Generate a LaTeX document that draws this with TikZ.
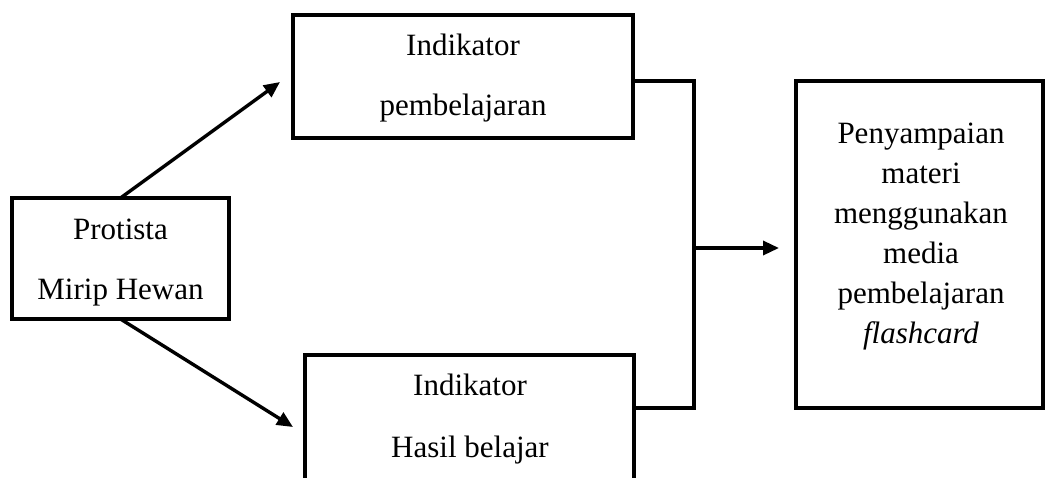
\documentclass[tikz,border=0pt]{standalone}
\usepackage{fontspec}
\setmainfont{Liberation Serif}
\usetikzlibrary{arrows.meta}
\tikzset{
  box/.style={draw=black, line width=3.8pt, rectangle, inner sep=0pt, outer sep=0pt},
  txt/.style={anchor=base, inner sep=0pt, font=\fontsize{31}{37}\selectfont},
  conn/.style={draw=black, line width=3.4pt},
  arr/.style={conn, -{Triangle[length=16pt,width=14pt]}}
}
\begin{document}
\begin{tikzpicture}[x=1pt,y=-1pt]
\clip (0,0) rectangle (1045,477);
\fill[white] (0,0) rectangle (1045,477);
% boxes
\node[box, minimum width=340pt, minimum height=123pt] (top) at (463,76.5) {};
\node[box, minimum width=217pt, minimum height=121pt] (left) at (120.5,258.5) {};
\node[box, minimum width=329pt, minimum height=145pt] (bottom) at (469.5,427.5) {};
\node[box, minimum width=247pt, minimum height=327pt] (right) at (919.5,244.5) {};
% texts
\node[txt] (t1) at (463,55) {Indikator};
\node[txt] (t2) at (463,115) {pembelajaran};
\node[txt] (l1) at (120.5,239) {Protista};
\node[txt] (l2) at (120.5,299) {Mirip Hewan};
\node[txt] (b1) at (470,395) {Indikator};
\node[txt] (b2) at (470,457) {Hasil belajar};
\node[txt] (r1) at (921,143) {Penyampaian};
\node[txt] (r2) at (921,183) {materi};
\node[txt] (r3) at (921,223) {menggunakan};
\node[txt] (r4) at (921,263) {media};
\node[txt] (r5) at (921,303) {pembelajaran};
\node[txt] (r6) at (921,343) {\itshape flashcard};
% connector points
\coordinate (tipA) at (280,82);
\coordinate (tipB) at (293,427);
\coordinate (j1) at (694,81);
\coordinate (j2) at (694,408);
\coordinate (jm) at (694,248);
\coordinate (tipC) at (779,248);
% connectors
\draw[arr] (left.north) -- (tipA);
\draw[arr] (left.south) -- (tipB);
\draw[conn] (top.east |- j1) -- (j1) -- (j2) -- (bottom.east |- j2);
\draw[arr] (jm) -- (tipC);
\end{tikzpicture}
\end{document}
